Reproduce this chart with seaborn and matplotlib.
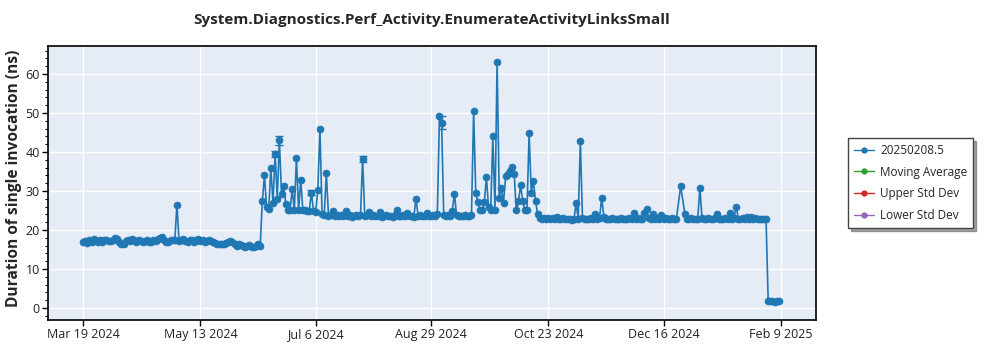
import numpy as np
import pandas as pd
import matplotlib
matplotlib.use("Agg")
import matplotlib.pyplot as plt
import matplotlib.ticker as mticker
import seaborn as sns
from matplotlib.lines import Line2D

title = "System.Diagnostics.Perf_Activity.EnumerateActivityLinksSmall"
ylabel = "Duration of single invocation (ns)"
series_name = "20250208.5"
legend_labels = ["20250208.5", "Moving Average", "Upper Std Dev", "Lower Std Dev"]
legend_colors = ["#1f77b4", "#2ca02c", "#d62728", "#9467bd"]

start_date = "2024-03-19"
# daily values (ns), Mar 19 2024 .. Feb 8 2025 ; None = no run that day
mar = [16.8, 17.1, 16.7, 17.3, 16.9, 17.6, 17.2, 16.9, 17.4, 17.0, 17.5, 17.3, 17.1]
apr = [17.2, 17.4, 17.9, 17.6, 16.8, 16.3, 16.5, 17.2, 17.5, 17.1, 17.6, 17.3, 16.9, 17.4, 17.2,
       16.8, 17.1, 17.3, 17.0, 16.9, 17.4, 17.2, 17.6, 17.9, 18.1, 17.5, 17.0, 16.9, 17.3, 17.4]
may = [17.3, 26.5, 17.1, 17.4, 17.6, 17.2, 17.0, 17.5, 17.3, 16.9, 17.4, 17.6, 17.1, 17.3, 17.0,
       17.2, 17.5, 17.1, 16.8, 16.6, 16.3, 16.5, 16.4, 16.5, 16.7, 16.9, 17.1, 16.8, 16.4, 16.0, 16.3]
jun = [16.1, 15.8, 15.6, 15.9, 16.2, 15.7, 15.5, 15.9, 16.3, 15.8, 27.3, 34.0, 26.0, 25.3, 35.8,
       27.0, 39.5, 28.0, 43.0, 29.2, 31.3, 26.7, 25.2, 25.0, 30.5, 25.1, 38.5, 25.0, 32.8, 25.0]
jul = [25.0, 24.8, 24.9, 29.6, 24.8, 24.7, 30.3, 46.0, 24.1, 23.8, 34.6, 23.7, 23.9, 24.8, 23.6,
       23.8, 23.5, 23.9, 23.7, 24.8, 23.6, 23.8, 23.4, 23.7, 23.9, 23.5, 23.8, 38.3, 23.6, 23.9, 24.7]
aug = [23.6, 23.8, 23.5, 23.7, 24.5, 23.4, 23.6, 23.8, 23.5, 23.7, 23.4, 23.9, 25.0, 23.6, 23.5,
       23.8, 23.6, 24.3, 23.5, 23.7, 23.4, 28.0, 23.6, 23.8, 23.5, 23.7, 24.4, 23.6, 23.5, 23.8, 23.6]
sep = [24.0, 49.2, 47.5, 23.8, 23.6, 23.9, 23.5, 24.9, 29.3, 23.8, 23.6, 23.7, 23.5, 23.8, 23.6,
       23.7, 23.9, 50.5, 29.6, 27.1, 25.0, 25.1, 27.1, 33.5, 25.8, 25.0, 44.0, 25.2, 63.0, 28.3]
oct_ = [30.7, 27.0, 33.8, 34.4, 35.0, 36.2, 34.4, 25.0, 27.3, 31.5, 27.3, 25.0, 25.1, 44.8, 29.6,
        32.5, 27.5, 24.0, 23.1, 22.9, 23.0, 22.8, 23.1, 22.9, 23.0, 22.7, 23.2, 22.9, 22.8, 23.0, 22.9]
nov = [22.9, 22.7, 22.5, 22.8, 26.8, 22.9, 42.8, 23.0, 22.8, 22.9, 22.7, 23.0, 22.8, 24.0, 22.9,
       23.1, 28.3, 23.4, 22.8, 22.9, 22.7, 23.0, 22.8, 22.9, 22.8, 23.0, 22.7, 22.9, 22.8, 23.0]
dec = [22.9, 24.4, 22.8, 23.0, 22.9, 22.8, 24.4, 25.5, 23.0, 22.8, 24.0, 22.9, 23.0, 22.8, 23.9,
       22.9, 23.0, 22.8, 22.9, 23.0, 22.8, 22.9, None, 31.2, None, 24.0, 22.9, 22.8, 23.0, 22.9, 22.8]
jan = [22.8, 30.8, 23.0, 22.9, 22.8, 23.0, 22.9, 22.7, 23.0, 24.0, 22.8, 22.9, 22.7, 23.0, 22.9,
       24.4, 22.8, 23.0, 26.0, 22.9, 22.8, 23.0, 22.7, 23.2, 22.9, 23.4, 22.8, 23.0, 22.7, 22.9, 22.8]
feb = [22.9, 22.8, 1.7, 1.8, 1.7, 1.6, 1.8, 1.7]

# points with visible error bars
err_dates = ["2024-06-17", "2024-06-19", "2024-07-04", "2024-07-28", "2024-09-03"]
err_values = [39.5, 43.0, 29.6, 38.3, 47.5]
err_sizes = [0.7, 1.1, 0.6, 0.75, 1.7]

xtick_dates = ["2024-03-19", "2024-05-13", "2024-07-06", "2024-08-29", "2024-10-23", "2024-12-16", "2025-02-09"]
xtick_labels = ["Mar 19 2024", "May 13 2024", "Jul 6 2024", "Aug 29 2024", "Oct 23 2024", "Dec 16 2024", "Feb 9 2025"]

values = mar + apr + may + jun + jul + aug + sep + oct_ + nov + dec + jan + feb
dates = pd.date_range(start_date, periods=len(values), freq="D")
df = pd.DataFrame({"date": dates, "value": pd.array(values, dtype="float")}).dropna()

sns.set_theme(style="darkgrid", rc={"axes.facecolor": "#E5ECF6", "grid.color": "white",
                                    "grid.linewidth": 1.0})
plt.rcParams["font.family"] = ["Open Sans", "DejaVu Sans"]

fig = plt.figure(figsize=(10, 3.5), dpi=100)
fig.patch.set_facecolor("white")
ax = fig.add_axes([0.048, 0.0857, 0.768, 0.783])

blue = "#1f77b4"
sns.lineplot(data=df, x="date", y="value", ax=ax, color=blue, marker="o", markersize=5,
             markeredgecolor=blue, markeredgewidth=0.5, linewidth=1.2, legend=False,
             errorbar=None, zorder=3)
ax.errorbar(pd.to_datetime(err_dates), err_values, yerr=err_sizes, fmt="none",
            ecolor=blue, elinewidth=1.0, capsize=3, capthick=1.0, zorder=2)

start = pd.Timestamp(start_date)
ax.set_xlim(start - pd.Timedelta(days=16.4), start + pd.Timedelta(days=343.4))
ax.set_ylim(-3.1, 67.2)
ax.set_xticks(pd.to_datetime(xtick_dates))
ax.set_xticklabels(xtick_labels)
ax.yaxis.set_major_locator(mticker.MultipleLocator(10))
ax.yaxis.set_minor_locator(mticker.MultipleLocator(2))
ax.tick_params(axis="both", which="major", direction="out", length=4, width=1, color="black",
               labelsize=9, labelcolor="#222222", bottom=True, left=True, pad=2)
ax.tick_params(axis="y", which="minor", direction="out", length=2, width=0.8, color="black", left=True)
ax.grid(which="minor", visible=False)
for s in ax.spines.values():
    s.set_visible(True)
    s.set_color("black")
    s.set_linewidth(1.2)

ax.set_xlabel("")
ax.set_ylabel(ylabel, fontsize=11.2, fontweight="bold")
ax.yaxis.set_label_coords(-0.034, 0.518)
ax.set_title(title, fontsize=11, fontweight="bold", pad=16)

handles = [Line2D([], [], color=c, marker="o", markersize=3.5, linewidth=1.0) for c in legend_colors]
leg = ax.legend(handles, legend_labels, loc="center left", bbox_to_anchor=(1.042, 0.5),
                borderaxespad=0, frameon=True, fancybox=False, shadow=True, fontsize=8.5,
                handlelength=1.7, handletextpad=0.5, borderpad=0.5, labelspacing=0.75,
                framealpha=1)
leg.get_frame().set_edgecolor("#444444")
leg.get_frame().set_facecolor("white")
leg.get_frame().set_linewidth(1.0)

fig.savefig("out.png", dpi=100)
